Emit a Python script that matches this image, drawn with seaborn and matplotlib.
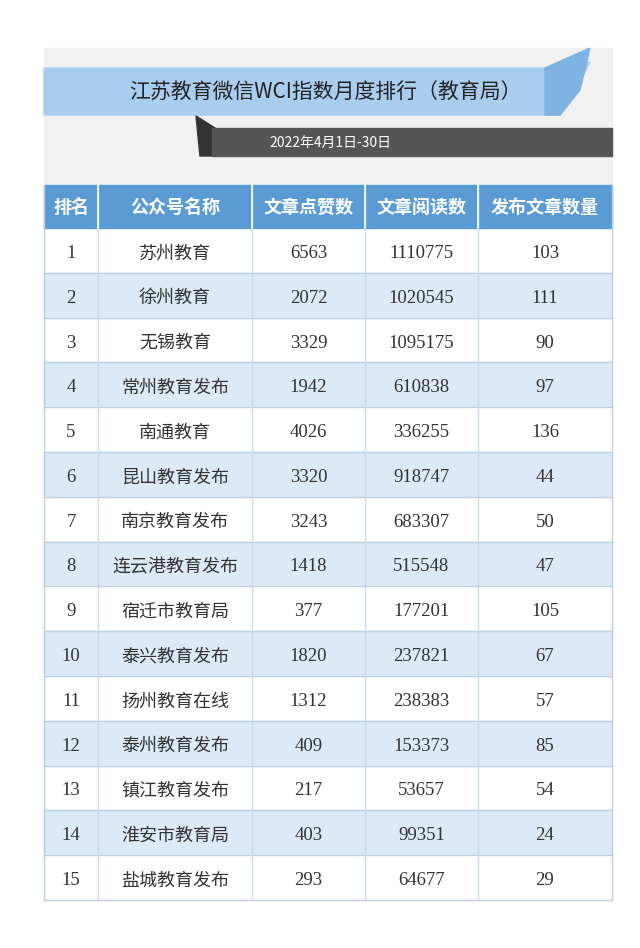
import matplotlib
matplotlib.use("Agg")
import matplotlib.pyplot as plt
from matplotlib.patches import Rectangle, Polygon
import seaborn as sns

sns.set_theme(style="white")

title = "江苏教育微信WCI指数月度排行（教育局）"
date_text = "2022年4月1日-30日"
headers = ["排名", "公众号名称", "文章点赞数", "文章阅读数", "发布文章数量"]
ranks = list(range(1, 16))
names = ["苏州教育", "徐州教育", "无锡教育", "常州教育发布", "南通教育", "昆山教育发布",
         "南京教育发布", "连云港教育发布", "宿迁市教育局", "泰兴教育发布", "扬州教育在线",
         "泰州教育发布", "镇江教育发布", "淮安市教育局", "盐城教育发布"]
likes = [6563, 2072, 3329, 1942, 4026, 3320, 3243, 1418, 377, 1820, 1312, 409, 217, 403, 293]
reads = [1110775, 1020545, 1095175, 610838, 336255, 918747, 683307, 515548, 177201,
         237821, 238383, 153373, 53657, 99351, 64677]
counts = [103, 111, 90, 97, 136, 44, 50, 47, 105, 67, 57, 85, 54, 24, 29]

W, H = 640, 948
fig = plt.figure(figsize=(W / 100, H / 100), dpi=100)
ax = fig.add_axes([0, 0, 1, 1])
ax.set_xlim(0, W)
ax.set_ylim(H, 0)
ax.axis("off")

CJK = "Noto Sans CJK SC"
SERIF = "Liberation Serif"

ax.add_patch(Rectangle((44, 48), 568, 140, color="#f1f1f1", zorder=0))
ax.add_patch(Polygon([(44, 68), (560, 68), (590, 62), (575, 92), (560, 115), (44, 115)],
                     closed=True, color="#a9cdee", zorder=1))
ax.add_patch(Polygon([(545, 68), (590, 48), (580, 90), (560, 115), (545, 115)],
                     closed=True, color="#7fb3e3", zorder=1))
ax.text(325, 93, title, ha="center", va="center", fontsize=15, fontfamily=CJK,
        color="#222222", zorder=3)
ax.add_patch(Polygon([(196, 116), (215, 128), (215, 156), (200, 156)], closed=True,
                     color="#333333", zorder=1))
ax.add_patch(Rectangle((212, 128), 400, 28, color="#555555", zorder=2))
ax.text(330, 143, date_text, ha="center", va="center", fontsize=10, fontfamily=CJK,
        color="white", zorder=3)

cols = [44, 98, 252, 365, 478, 612]
top, hh = 185, 43
rh = (900 - (top + hh)) / 15

ax.add_patch(Rectangle((44, top), 568, hh, color="#5b9bd5", zorder=2))
for i, h in enumerate(headers):
    ax.text((cols[i] + cols[i + 1]) / 2, top + hh / 2 + 1, h, ha="center", va="center",
            fontsize=13, fontfamily=CJK, fontweight="bold", color="white", zorder=3)

for r in range(15):
    y0 = top + hh + r * rh
    ax.add_patch(Rectangle((44, y0), 568, rh, color="#ffffff" if r % 2 == 0 else "#dce9f6",
                           zorder=1))
    vals = [str(ranks[r]), names[r], str(likes[r]), str(reads[r]), str(counts[r])]
    for i, v in enumerate(vals):
        fam = CJK if i == 1 else SERIF
        ax.text((cols[i] + cols[i + 1]) / 2, y0 + rh / 2 + 3, v, ha="center", va="center",
                fontsize=13.5 if i != 1 else 13, fontfamily=fam, color="#333333", zorder=3)
    ax.plot([44, 612], [y0 + rh, y0 + rh], color="#b8cfe6", lw=1, zorder=2)

for x in cols:
    ax.plot([x, x], [top, 900], color="#b8cfe6" if x in (44, 612) else "#c9dbee", lw=1, zorder=2)
for x in cols[1:-1]:
    ax.plot([x, x], [top, top + hh], color="white", lw=1.2, zorder=2)

fig.savefig("out.png", dpi=100)
